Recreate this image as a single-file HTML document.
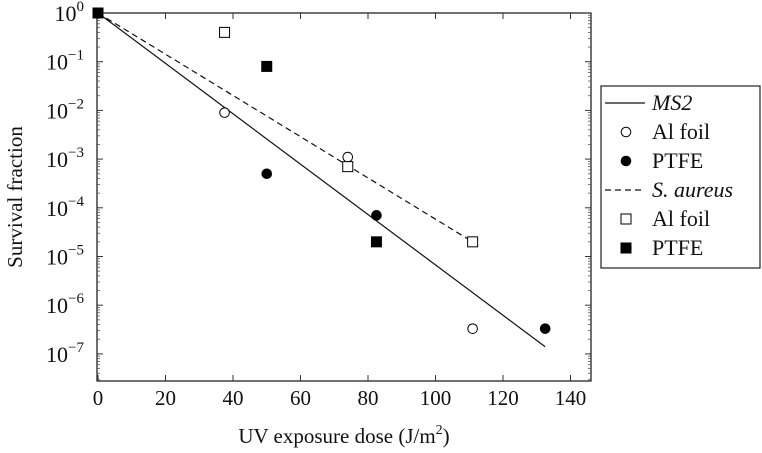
<!DOCTYPE html>
<html><head><meta charset="utf-8"><style>
html,body{margin:0;padding:0;background:#fff;}
svg{display:block;}
text{font-family:"Liberation Serif","DejaVu Serif",serif;}
</style></head><body>
<svg id="chart" width="762" height="453" xmlns="http://www.w3.org/2000/svg"></svg>
<script>
const xTicks=[0,20,40,60,80,100,120,140];
const yDecades=[0,-1,-2,-3,-4,-5,-6,-7];
const ms2AlX=[0,37.5,74,111];
const ms2AlY=[1,9e-3,1.1e-3,3.3e-7];
const ms2PtfeX=[0,50,82.5,132.5];
const ms2PtfeY=[1,5e-4,7e-5,3.3e-7];
const saAlX=[0,37.5,74,111];
const saAlY=[1,0.4,7e-4,2e-5];
const saPtfeX=[0,50,82.5];
const saPtfeY=[1,0.08,2e-5];
const ms2FitX=[0,132.5];
const ms2FitY=[1,1.4e-7];
const saFitX=[0,111];
const saFitY=[1,2e-5];

const NS="http://www.w3.org/2000/svg";
const FF='Liberation Serif, DejaVu Serif, serif';
const svg=document.getElementById('chart');
const L=97,R=591,T=13,B=381;
const sx=v=>98+v*3.375;
const sy=v=>13-Math.log10(v)*48.7;
function mk(tag,attrs,parent){const e=document.createElementNS(NS,tag);for(const k in attrs)e.setAttribute(k,attrs[k]);if(tag==='text')e.setAttribute('font-family',FF);(parent||svg).appendChild(e);return e;}

const frame=mk('rect',{x:L,y:T,width:R-L,height:B-T,fill:'none',stroke:'#222','stroke-width':1.3});



const xg=mk('g',{});


xTicks.forEach(v=>{
  const x=sx(v);
  mk('line',{x1:x,x2:x,y1:B,y2:B-6,stroke:'#333'},xg);
  mk('line',{x1:x,x2:x,y1:T,y2:T+6,stroke:'#333'},xg);
  const t=mk('text',{x:x,y:405,'text-anchor':'middle','font-size':21,fill:'#111'},xg);
  t.textContent=v;
  
  
});
const yg=mk('g',{});


yDecades.forEach(d=>{
  const y=sy(Math.pow(10,d));
  mk('line',{x1:L,x2:L+6,y1:y,y2:y,stroke:'#333'},yg);
  mk('line',{x1:R,x2:R-6,y1:y,y2:y,stroke:'#333'},yg);
  for(let m=2;m<=9;m++){
    const yy=sy(m*Math.pow(10,d-1));
    if(yy>B)continue;
    mk('line',{x1:L,x2:L+3,y1:yy,y2:yy,stroke:'#555','stroke-width':0.8},yg);
    mk('line',{x1:R,x2:R-3,y1:yy,y2:yy,stroke:'#555','stroke-width':0.8},yg);
  }
  const t=mk('text',{x:84,y:y+8,'text-anchor':'end','font-size':22,fill:'#111'},yg);
  
  
  t.appendChild(document.createTextNode('10'));
  const s=mk('tspan',{dy:-10,'font-size':15},t);s.textContent=d===0?'0':'\u2212'+(-d);
});
const xt=mk('text',{x:344,y:443,'text-anchor':'middle','font-size':21,fill:'#111'});


xt.appendChild(document.createTextNode('UV exposure dose (J/m'));
const sup=mk('tspan',{dy:-9,'font-size':14},xt);sup.textContent='2';
const cl=mk('tspan',{dy:9},xt);cl.textContent=')';
const yt=mk('text',{x:0,y:0,transform:'translate(22,197) rotate(-90)','text-anchor':'middle','font-size':21,fill:'#111'});
yt.textContent='Survival fraction';



const f1=mk('line',{x1:sx(ms2FitX[0]),y1:sy(ms2FitY[0]),x2:sx(ms2FitX[1]),y2:sy(ms2FitY[1]),stroke:'#111','stroke-width':1.2});


const f2=mk('line',{x1:sx(saFitX[0]),y1:sy(saFitY[0]),x2:sx(saFitX[1]),y2:sy(saFitY[1]),stroke:'#111','stroke-width':1.2,'stroke-dasharray':'6,4'});



function circ(x,y,fill,name,p){const c=mk('circle',{cx:x,cy:y,r:4.8,fill:fill?'#000':'#fff',stroke:'#000','stroke-width':1},p);

}
function sq(x,y,fill,name,p){const c=mk('rect',{x:x-5,y:y-5,width:10,height:10,fill:fill?'#000':'#fff',stroke:'#000','stroke-width':1},p);

}
ms2AlX.forEach((v,i)=>circ(sx(v),sy(ms2AlY[i]),false,'ms2-al-foil-point'));
ms2PtfeX.forEach((v,i)=>circ(sx(v),sy(ms2PtfeY[i]),true,'ms2-ptfe-point'));
saAlX.forEach((v,i)=>sq(sx(v),sy(saAlY[i]),false,'s-aureus-al-foil-point'));
saPtfeX.forEach((v,i)=>sq(sx(v),sy(saPtfeY[i]),true,'s-aureus-ptfe-point'));

const lg=mk('g',{});


mk('rect',{x:601,y:86,width:159,height:182,fill:'#fff',stroke:'#222','stroke-width':1.2},lg);
const ents=[['line','MS2',true],['oc','Al foil'],['fc','PTFE'],['dash','S. aureus',true],['os','Al foil'],['fs','PTFE']];
ents.forEach((e,i)=>{
  const y=103+i*29;
  if(e[0]==='line')mk('line',{x1:605,x2:645,y1:y,y2:y,stroke:'#111','stroke-width':1.2},lg);
  if(e[0]==='dash')mk('line',{x1:605,x2:645,y1:y,y2:y,stroke:'#111','stroke-width':1.2,'stroke-dasharray':'6,4'},lg);
  if(e[0]==='oc')circ(626,y,false,'legend-marker',lg);
  if(e[0]==='fc')circ(626,y,true,'legend-marker',lg);
  if(e[0]==='os')sq(626,y,false,'legend-marker',lg);
  if(e[0]==='fs')sq(626,y,true,'legend-marker',lg);
  const t=mk('text',{x:652,y:y+7,'font-size':22,fill:'#111','font-style':e[2]?'italic':'normal'},lg);
  t.textContent=e[1];
  
  
});
</script>
</body></html>
